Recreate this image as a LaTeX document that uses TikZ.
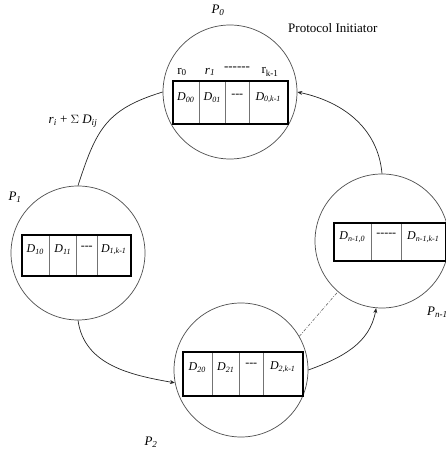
\documentclass[tikz,border=0pt]{standalone}
\usepackage{fontspec}
\setmainfont{Liberation Serif}
\usetikzlibrary{arrows.meta}
\begin{document}
\begin{tikzpicture}[x=1pt,y=1pt,
  proc/.style={circle, draw=black!70, line width=0.7pt, minimum size=134pt, inner sep=0pt},
  cell/.style={draw=black!55, line width=0.5pt, anchor=north west, inner sep=0pt},
  outer/.style={draw=black, line width=1.9pt, anchor=north west, inner sep=0pt},
  dlab/.style={font=\fontsize{12}{13}\selectfont\itshape, inner sep=0pt},
  rlab/.style={font=\fontsize{13}{14}\selectfont, inner sep=0pt},
  plab/.style={font=\fontsize{13}{14}\selectfont\itshape, inner sep=0pt},
  conn/.style={draw=black!85, line width=0.7pt},
  arr/.style={conn, -{Stealth[length=5pt,width=4pt]}},
  dashdotline/.style={draw=black!60, line width=0.6pt, dash pattern=on 3pt off 1.5pt on 0.8pt off 1.5pt}]
\useasboundingbox (0,0) rectangle (446,453);

% processes
\node[proc] (p0) at (230,361) {};
\node[proc] (p1) at (78,200) {};
\node[proc] (p2) at (241,83) {};
\node[proc] (pn) at (382,212) {};

% P0 register
\node[cell, minimum width=27pt, minimum height=43pt] (c00) at (172,373) {};
\node[cell, minimum width=26pt, minimum height=43pt] (c01) at (199,373) {};
\node[cell, minimum width=24pt, minimum height=43pt] (c02) at (225,373) {};
\node[cell, minimum width=38pt, minimum height=43pt] (c03) at (249,373) {};
\node[outer, minimum width=115pt, minimum height=43pt] (b0) at (172,373) {};
\node[dlab] (t00) at ([yshift=4pt]c00.center) {D\textsubscript{00}};
\node[dlab] (t01) at ([yshift=4pt]c01.center) {D\textsubscript{01}};
\node[dlab] (t02) at ([yshift=6pt]c02.center) {-{}-{}-};
\node[dlab] (t03) at ([yshift=4pt]c03.center) {D\textsubscript{0,k-1}};

\node[rlab] (r0) at (182,381) {r\textsubscript{0}};
\node[rlab] (r1) at (210,381) {\itshape r\textsubscript{1}};
\node[rlab] (rd) at (237,384) {-{}-{}-{}-{}-{}-};
\node[rlab] (rk) at (270,381) {r\textsubscript{k-1}};

% P1 register
\node[cell, minimum width=28pt, minimum height=41pt] (c10) at (21,219) {};
\node[cell, minimum width=27pt, minimum height=41pt] (c11) at (49,219) {};
\node[cell, minimum width=21pt, minimum height=41pt] (c12) at (76,219) {};
\node[cell, minimum width=33pt, minimum height=41pt] (c13) at (97,219) {};
\node[outer, minimum width=109pt, minimum height=41pt] (b1) at (21,219) {};
\node[dlab] (t10) at ([yshift=5pt]c10.center) {D\textsubscript{10}};
\node[dlab] (t11) at ([yshift=5pt]c11.center) {D\textsubscript{11}};
\node[dlab] (t12) at ([yshift=7pt]c12.center) {-{}-{}-};
\node[dlab] (t13) at ([yshift=5pt]c13.center) {D\textsubscript{1,k-1}};

% P2 register
\node[cell, minimum width=30pt, minimum height=44pt] (c20) at (182,102) {};
\node[cell, minimum width=27pt, minimum height=44pt] (c21) at (212,102) {};
\node[cell, minimum width=24pt, minimum height=44pt] (c22) at (239,102) {};
\node[cell, minimum width=39pt, minimum height=44pt] (c23) at (263,102) {};
\node[outer, minimum width=120pt, minimum height=44pt] (b2) at (182,102) {};
\node[dlab] (t20) at ([yshift=6pt]c20.center) {D\textsubscript{20}};
\node[dlab] (t21) at ([yshift=6pt]c21.center) {D\textsubscript{21}};
\node[dlab] (t22) at ([yshift=8pt]c22.center) {-{}-{}-};
\node[dlab] (t23) at ([yshift=6pt]c23.center) {D\textsubscript{2,k-1}};

% Pn-1 register
\node[cell, minimum width=38pt, minimum height=38pt] (cn0) at (333,231) {};
\node[cell, minimum width=30pt, minimum height=38pt] (cn1) at (371,231) {};
\node[cell, minimum width=44pt, minimum height=38pt] (cn2) at (401,231) {};
\node[outer, minimum width=112pt, minimum height=38pt] (bn) at (333,231) {};
\node[dlab] (tn0) at ([yshift=4pt]cn0.center) {D\textsubscript{n-1,0}};
\node[dlab] (tn1) at ([yshift=6pt]cn1.center) {-{}-{}-{}-{}-};
\node[dlab] (tn2) at ([yshift=4pt]cn2.center) {D\textsubscript{n-1,k-1}};

% labels
\node[plab] (lp0) at (218,443) {P\textsubscript{0}};
\node[plab] (lp1) at (15,256) {P\textsubscript{1}};
\node[plab] (lp2) at (151,11) {P\textsubscript{2}};
\node[plab, anchor=west] (lpn) at (427,141) {P\textsubscript{n-1}};
\node[rlab, anchor=west] (pi) at (288,425) {Protocol Initiator};
\node[rlab] (sum) at (73,332) {\textit{r\textsubscript{i}} + $\Sigma$ \textit{D\textsubscript{ij}}};

% connectors
\draw[conn] (p0.west) to[out=197,in=72,looseness=1.2] (p1.north);
\draw[arr] (p1.south) to[out=-82,in=170] (p2.191);
\draw[arr] (p2.east) to[out=20,in=-100] (pn.-95);
\draw[arr] (pn.north) to[out=95,in=-12] (p0.east);
\draw[dashdotline] (p2.30) -- (pn.229);
\end{tikzpicture}
\end{document}
